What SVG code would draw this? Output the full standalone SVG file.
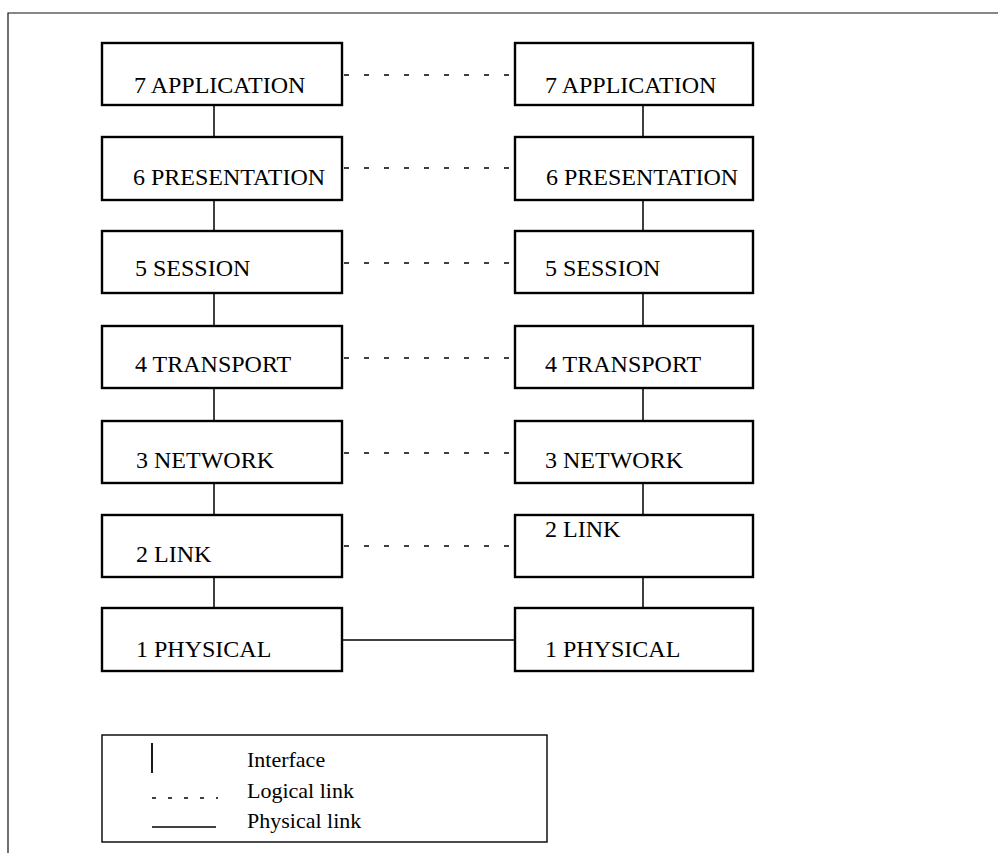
<svg xmlns="http://www.w3.org/2000/svg" width="998" height="853" viewBox="0 0 998 853">
<style>
.bg{fill:#ffffff}
.frame{fill:none;stroke:#111;stroke-width:1.2}
.box{fill:#ffffff;stroke:#000;stroke-width:2.4}
.lbl{font-family:"Liberation Serif","Times New Roman",serif;font-size:24px;fill:#000}
.leg{font-family:"Liberation Serif","Times New Roman",serif;font-size:22px;fill:#000}
.iface{stroke:#000;stroke-width:1.5;fill:none}
.logical{stroke:#000;stroke-width:1.5;stroke-dasharray:5 15;fill:none}
.phys{stroke:#000;stroke-width:1.5;fill:none}
</style>
<rect class="bg" x="0" y="0" width="998" height="853"/>
<path class="frame" d="M8,853 L8,13 L998,13"/>

<g id="connectors">
  <path class="iface" d="M214,105 V137 M214,200 V231 M214,293 V326 M214,388 V421 M214,483 V515 M214,577 V608"/>
  <path class="iface" d="M643,105 V137 M643,200 V231 M643,293 V326 M643,388 V421 M643,483 V515 M643,577 V608"/>
  <path class="logical" d="M344,75 H515 M344,168 H515 M344,263 H515 M344,358 H515 M344,453 H515 M344,546 H515"/>
  <path class="phys" d="M342,640 H515"/>
</g>

<g id="L7"><rect class="box" x="102" y="43" width="240" height="62"/><text class="lbl" x="134" y="93">7 APPLICATION</text></g>
<g id="L6"><rect class="box" x="102" y="137" width="240" height="63"/><text class="lbl" x="133" y="185">6 PRESENTATION</text></g>
<g id="L5"><rect class="box" x="102" y="231" width="240" height="62"/><text class="lbl" x="135" y="276">5 SESSION</text></g>
<g id="L4"><rect class="box" x="102" y="326" width="240" height="62"/><text class="lbl" x="135" y="372">4 TRANSPORT</text></g>
<g id="L3"><rect class="box" x="102" y="421" width="240" height="62"/><text class="lbl" x="136" y="468">3 NETWORK</text></g>
<g id="L2"><rect class="box" x="102" y="515" width="240" height="62"/><text class="lbl" x="136" y="562">2 LINK</text></g>
<g id="L1"><rect class="box" x="102" y="608" width="240" height="63"/><text class="lbl" x="136" y="657">1 PHYSICAL</text></g>

<g id="R7"><rect class="box" x="515" y="43" width="238" height="62"/><text class="lbl" x="545" y="93">7 APPLICATION</text></g>
<g id="R6"><rect class="box" x="515" y="137" width="238" height="63"/><text class="lbl" x="546" y="185">6 PRESENTATION</text></g>
<g id="R5"><rect class="box" x="515" y="231" width="238" height="62"/><text class="lbl" x="545" y="276">5 SESSION</text></g>
<g id="R4"><rect class="box" x="515" y="326" width="238" height="62"/><text class="lbl" x="545" y="372">4 TRANSPORT</text></g>
<g id="R3"><rect class="box" x="515" y="421" width="238" height="62"/><text class="lbl" x="545" y="468">3 NETWORK</text></g>
<g id="R2"><rect class="box" x="515" y="515" width="238" height="62"/><text class="lbl" x="545" y="537">2 LINK</text></g>
<g id="R1"><rect class="box" x="515" y="608" width="238" height="63"/><text class="lbl" x="545" y="657">1 PHYSICAL</text></g>

<g id="legend">
  <rect x="102" y="735" width="445" height="107" fill="#ffffff" stroke="#000" stroke-width="1.4"/>
  <line x1="152" y1="743" x2="152" y2="773" stroke="#000" stroke-width="1.8"/>
  <line x1="152" y1="798" x2="218" y2="798" stroke="#000" stroke-width="1.5" stroke-dasharray="4 12"/>
  <line x1="152" y1="827" x2="216" y2="827" stroke="#000" stroke-width="1.5"/>
  <text class="leg" x="247" y="767">Interface</text>
  <text class="leg" x="247" y="798">Logical link</text>
  <text class="leg" x="247" y="828">Physical link</text>
</g>
</svg>
